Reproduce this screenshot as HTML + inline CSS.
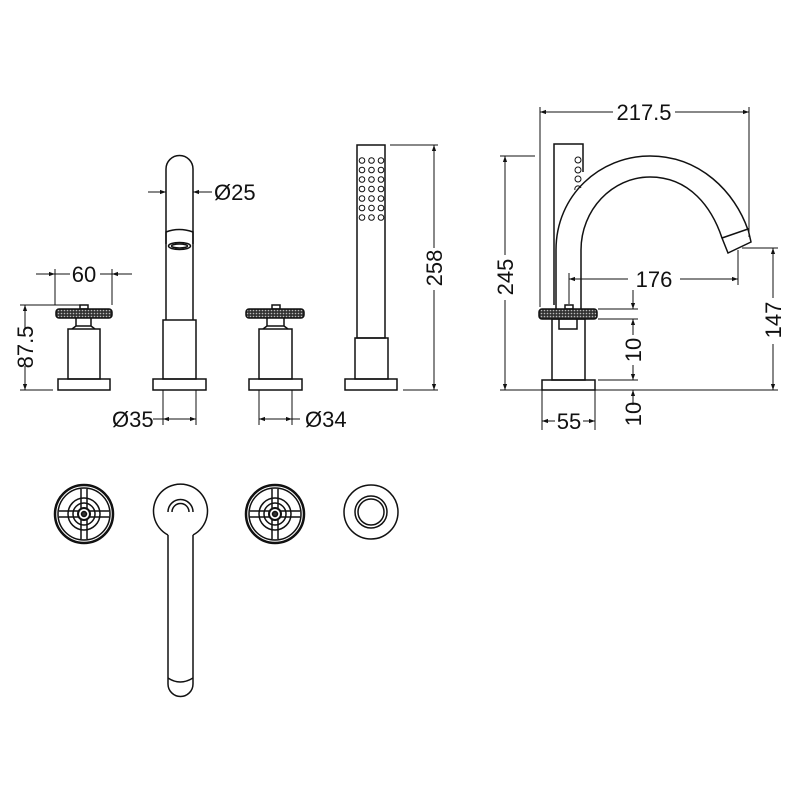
<!DOCTYPE html>
<html><head><meta charset="utf-8"><style>
html,body{margin:0;padding:0;background:#fff}
svg{display:block}
text{font-family:"Liberation Sans",sans-serif;font-size:22px;fill:#111}
</style></head><body>
<svg width="800" height="801" viewBox="0 0 800 801" xmlns="http://www.w3.org/2000/svg">
<defs>
<pattern id="kn" width="3" height="3" patternUnits="userSpaceOnUse">
<rect width="3" height="3" fill="#333"/><circle cx="1.5" cy="1.5" r="0.8" fill="#bbb"/>
</pattern>
<marker id="a" viewBox="0 0 10 10" refX="10" refY="5" markerWidth="8" markerHeight="6" orient="auto-start-reverse"><path d="M0,1.5L10,5L0,8.5z" fill="#111"/></marker>
</defs>
<g fill="none" stroke="#111" stroke-width="1.5">
<rect x="58" y="379" width="52" height="11"/>
<rect x="68" y="329" width="32" height="50"/>
<path d="M76 318V326H91V318M72 329L76 326M95 329L91 326"/>
<rect x="80" y="305" width="8" height="4"/>
<rect x="56" y="309" width="56" height="9" rx="3" fill="url(#kn)"/>
<rect x="153" y="379" width="53" height="11"/>
<rect x="163" y="320" width="33" height="59"/>
<path d="M166 320V169A13.5 13.5 0 0 1 193 169V320"/>
<path d="M166 244V232Q179 227 193 232V244"/>
<ellipse cx="179.5" cy="246" rx="11" ry="3.5"/>
<ellipse cx="179.5" cy="246" rx="8" ry="2"/>
<rect x="249" y="379" width="53" height="11"/>
<rect x="259" y="329" width="33" height="50"/>
<path d="M267 318V326H284V318M263 329L267 326M288 329L284 326"/>
<rect x="272" y="305" width="8" height="4"/>
<rect x="246" y="309" width="58" height="9" rx="3" fill="url(#kn)"/>
<rect x="345" y="379" width="52" height="11"/>
<rect x="355" y="338" width="33" height="41"/>
<rect x="357" y="145" width="28" height="193"/>
<g stroke-width="1">
<circle cx="362" cy="160.5" r="2.8"/><circle cx="371.5" cy="160.5" r="2.8"/><circle cx="381" cy="160.5" r="2.8"/>
<circle cx="362" cy="170" r="2.8"/><circle cx="371.5" cy="170" r="2.8"/><circle cx="381" cy="170" r="2.8"/>
<circle cx="362" cy="179.5" r="2.8"/><circle cx="371.5" cy="179.5" r="2.8"/><circle cx="381" cy="179.5" r="2.8"/>
<circle cx="362" cy="189" r="2.8"/><circle cx="371.5" cy="189" r="2.8"/><circle cx="381" cy="189" r="2.8"/>
<circle cx="362" cy="198.5" r="2.8"/><circle cx="371.5" cy="198.5" r="2.8"/><circle cx="381" cy="198.5" r="2.8"/>
<circle cx="362" cy="208" r="2.8"/><circle cx="371.5" cy="208" r="2.8"/><circle cx="381" cy="208" r="2.8"/>
<circle cx="362" cy="217.5" r="2.8"/><circle cx="371.5" cy="217.5" r="2.8"/><circle cx="381" cy="217.5" r="2.8"/>
</g>
<path d="M554 305V144H583V172"/>
<g stroke-width="1"><circle cx="578" cy="160" r="3"/><circle cx="578" cy="170" r="3"/><circle cx="578" cy="179" r="3"/><path d="M575 190A3 3 0 0 1 581 188"/></g>
<path d="M556 309V250C556 195 600 156 650 156C700 156 735 192 748 230"/>
<path d="M581 309V250C581 210 612 177 650 177C690 177 712 208 722 238"/>
<path d="M722 238L748 229L751 242L728 253Z"/>
<rect x="542" y="380" width="53" height="10"/>
<rect x="552" y="319" width="33" height="61"/>
<path d="M559 319V329H577V319"/>
<rect x="565" y="305" width="8" height="4"/>
<rect x="539" y="309" width="58" height="10" rx="3" fill="url(#kn)"/>
<circle cx="84" cy="514" r="29" stroke-width="2.5"/><circle cx="84" cy="514" r="26"/>
<circle cx="84" cy="514" r="16"/><circle cx="84" cy="514" r="11"/><circle cx="84" cy="514" r="6" stroke-width="2"/><circle cx="84" cy="514" r="2.5" fill="#333"/>
<path d="M81 489V508M87 489V508M81 520V539M87 520V539M59 511H78M59 517H78M90 511H109M90 517H109"/>
<circle cx="275" cy="514" r="29" stroke-width="2.5"/><circle cx="275" cy="514" r="26"/>
<circle cx="275" cy="514" r="16"/><circle cx="275" cy="514" r="11"/><circle cx="275" cy="514" r="6" stroke-width="2"/><circle cx="275" cy="514" r="2.5" fill="#333"/>
<path d="M272 489V508M278 489V508M272 520V539M278 520V539M250 511H269M250 517H269M281 511H300M281 517H300"/>
<path d="M168 535A27 27 0 1 1 193 535"/>
<path d="M168 512A12.5 12.5 0 0 1 193 512"/>
<path d="M168 535V684A12.5 12.5 0 0 0 193 684V535"/>
<path d="M172 512A8.5 8.5 0 0 1 189 512"/>
<path d="M168 678Q180 686 193 678"/>
<circle cx="371" cy="512" r="27"/><circle cx="371" cy="512" r="16"/><circle cx="371" cy="512" r="13"/>
</g>
<g fill="none" stroke="#111" stroke-width="1">
<path d="M55 269V305M112 269V305"/>
<path d="M36 274H55" marker-end="url(#a)"/><path d="M132 274H112" marker-end="url(#a)"/>
<path d="M55 274H70M100 274H112"/>
<path d="M20 305H80M20 390H53"/>
<path d="M25 330V305" marker-end="url(#a)"/><path d="M25 366V390" marker-end="url(#a)"/>
<path d="M148 192H166" marker-end="url(#a)"/><path d="M212 192H193" marker-end="url(#a)"/>
<path d="M163 390V425M196 390V425"/>
<path d="M153 419H196"/><path d="M180 419H163" marker-end="url(#a)"/><path d="M180 419H196" marker-end="url(#a)"/>
<path d="M259 390V425M292 390V425"/>
<path d="M259 419H300"/><path d="M275 419H259" marker-end="url(#a)"/><path d="M275 419H292" marker-end="url(#a)"/>
<path d="M390 145H438M403 390H438"/>
<path d="M434 248V145" marker-end="url(#a)"/><path d="M434 290V390" marker-end="url(#a)"/>
<path d="M540 107V307M749 107V237"/>
<path d="M613 112H540" marker-end="url(#a)"/><path d="M675 112H749" marker-end="url(#a)"/>
<path d="M500 156H535"/><path d="M500 390H778"/>
<path d="M505 255V156" marker-end="url(#a)"/><path d="M505 300V390" marker-end="url(#a)"/>
<path d="M569 273V304M738 250V285"/>
<path d="M628 279H569" marker-end="url(#a)"/><path d="M680 279H738" marker-end="url(#a)"/>
<path d="M742 248H778"/>
<path d="M773 298V248" marker-end="url(#a)"/><path d="M773 344V390" marker-end="url(#a)"/>
<path d="M598 309H638M598 319H638M598 380H638"/>
<path d="M633 290V309" marker-end="url(#a)"/><path d="M633 335V319" marker-end="url(#a)"/>
<path d="M633 365V380" marker-end="url(#a)"/>
<path d="M633 405V390" marker-end="url(#a)"/>
<path d="M542 390V430M595 390V430"/>
<path d="M555 421H542" marker-end="url(#a)"/><path d="M583 421H595" marker-end="url(#a)"/>
</g>
<g stroke="none">
<text x="84" y="282" text-anchor="middle">60</text>
<text transform="translate(33 347) rotate(-90)" text-anchor="middle">87.5</text>
<text x="214" y="200">Ø25</text>
<text x="112" y="427">Ø35</text>
<text x="305" y="427">Ø34</text>
<text transform="translate(442 268) rotate(-90)" text-anchor="middle">258</text>
<text x="644" y="120" text-anchor="middle">217.5</text>
<text transform="translate(513 277) rotate(-90)" text-anchor="middle">245</text>
<text x="654" y="287" text-anchor="middle">176</text>
<text transform="translate(781 320) rotate(-90)" text-anchor="middle">147</text>
<text transform="translate(641 350) rotate(-90)" text-anchor="middle">10</text>
<text transform="translate(641 414) rotate(-90)" text-anchor="middle">10</text>
<text x="569" y="429" text-anchor="middle">55</text>
</g>
</svg>
</body></html>
